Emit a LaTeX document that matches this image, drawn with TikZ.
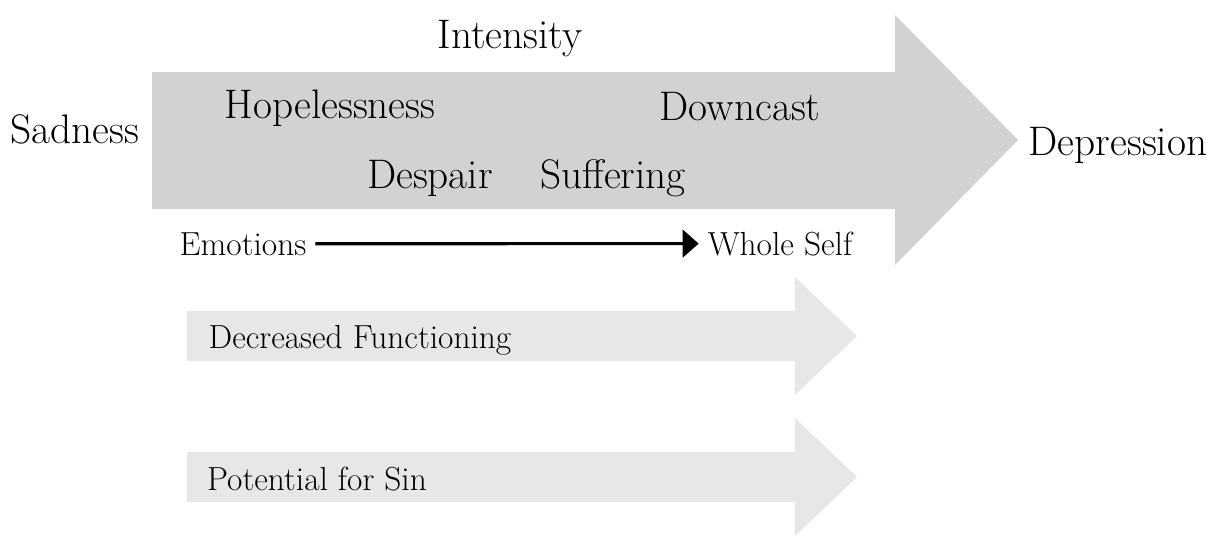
\documentclass[tikz,border=0pt]{standalone}
\usepackage{tikz}
\usetikzlibrary{arrows.meta}

\definecolor{biggray}{RGB}{209,210,212}
\definecolor{lightgray}{RGB}{230,231,232}

\begin{document}
\begin{tikzpicture}[x=0.02cm,y=-0.02cm,
  bigword/.style={anchor=base,inner sep=5pt,font=\fontsize{23.5}{28}\selectfont},
  smallword/.style={anchor=base,inner sep=5pt,font=\fontsize{19}{23}\selectfont}]
\useasboundingbox (0,0) rectangle (1217,535);

% the big arrow and the two small ones
\fill[biggray] (152,72) -- (895,72) -- (895,15) -- (1018,140)
   -- (895,265) -- (895,209) -- (152,209) -- cycle;
\foreach \y in {336, 477}
	{
	\fill[lightgray] (187,\y-25) -- (795,\y-25) -- (795,\y-59) -- (857,\y)
	   -- (795,\y+59) -- (795,\y+25) -- (187,\y+25) -- cycle;
	}

\node[bigword] (intensity) at (510,48) {Intensity};
\node[bigword] (sadness) at (75,143) {Sadness};
\node[bigword] (depression) at (1118,155) {Depression};
\node[bigword] (hopeless) at (330,118) {Hopelessness};
\node[bigword] (downcast) at (740,120) {Downcast};
\node[bigword] (despair) at (430,188) {Despair};
\node[bigword] (suffering) at (613,188) {Suffering};

\node[smallword] (emotions) at (243,255) {Emotions};
\node[smallword] (wholeself) at (780,255) {Whole Self};
\draw[line width=1.8pt,-{Triangle[length=0.32cm,width=0.55cm]}] (emotions) -- (wholeself);

\node[smallword] (functioning) at (360,348) {Decreased Functioning};
\node[smallword] (sin) at (317,490) {Potential for Sin};
\end{tikzpicture}
\end{document}
